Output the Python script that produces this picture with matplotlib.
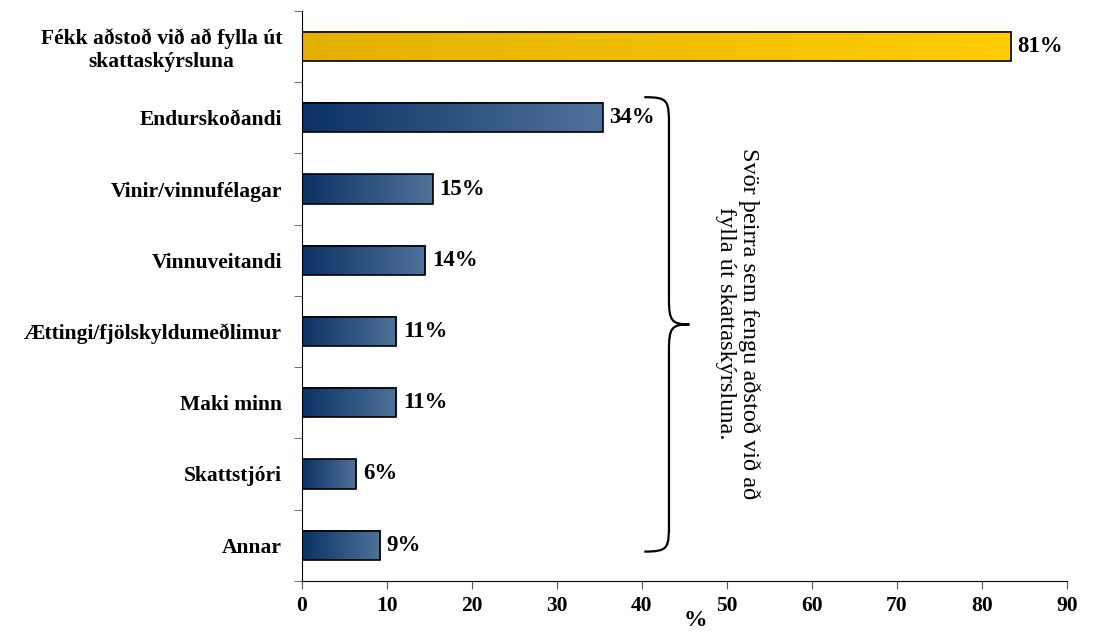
import matplotlib
matplotlib.use('Agg')
import matplotlib.pyplot as plt
import numpy as np
from matplotlib.colors import LinearSegmentedColormap
from matplotlib.path import Path
from matplotlib.patches import PathPatch

categories = ['Fékk aðstoð við að fylla út\nskattaskýrsluna', 'Endurskoðandi',
              'Vinir/vinnufélagar', 'Vinnuveitandi', 'Ættingi/fjölskyldumeðlimur',
              'Maki minn', 'Skattstjóri', 'Annar']
# bar lengths as drawn in the picture
values = [83.4, 35.4, 15.4, 14.5, 11.1, 11.1, 6.4, 9.2]
value_labels = ['81%', '34%', '15%', '14%', '11%', '11%', '6%', '9%']
xticks = [0, 10, 20, 30, 40, 50, 60, 70, 80, 90]
note = 'Svör þeirra sem fengu aðstoð við að\nfylla út skattaskýrsluna.'

plt.rcParams['font.family'] = ['Liberation Serif', 'DejaVu Serif']

blue_cm = LinearSegmentedColormap.from_list('blue', ['#0a3264', '#50729a'])
gold_cm = LinearSegmentedColormap.from_list('gold', ['#e3b000', '#ffcd00'])

fig = plt.figure(figsize=(11.05, 6.32), dpi=100)
ax = fig.add_axes([0.273, 0.081, 0.6925, 0.9016])

n = len(categories)
ypos = np.arange(n)
h = 0.41
grad = np.linspace(0, 1, 256).reshape(1, -1)
for i, (y, v) in enumerate(zip(ypos, values)):
    cm = gold_cm if i == 0 else blue_cm
    ax.imshow(grad, cmap=cm, aspect='auto', extent=[0, v, y + h / 2, y - h / 2],
              zorder=1, interpolation='bilinear')
    ax.text(v + 0.8, y, value_labels[i], va='center', ha='left',
            fontsize=16.5, fontweight='bold')
ax.barh(ypos, values, height=h, facecolor='none', edgecolor='black',
        linewidth=1.2, zorder=2)

ax.set_xlim(0, 90)
ax.set_ylim(n - 0.5, -0.5)
ax.set_xticks(xticks)
ax.set_xticklabels([str(t) for t in xticks], fontsize=15.5, fontweight='bold')
ax.set_yticks(ypos)
ax.set_yticklabels(categories, fontsize=15.5, fontweight='bold')
for lab in ax.get_yticklabels():
    lab.set_multialignment('center')
ax.set_yticks(np.arange(-0.5, n, 1), minor=True)
ax.tick_params(axis='y', which='major', length=0, pad=14)
ax.tick_params(axis='y', which='minor', length=6, color='#555555')
ax.tick_params(axis='x', length=6, color='#555555', pad=5)
ax.set_xlabel('%', fontsize=17, fontweight='bold')
ax.xaxis.set_label_coords(0.514, -0.052)
for s in ['top', 'right']:
    ax.spines[s].set_visible(False)

# curly brace
bx, top, bot, mid = 43.2, 0.71, 7.09, 3.9
left, tip = 40.3, 45.6
c = 0.42
m = 0.36
verts = [(left, top), (bx, top), (bx, top + 0.05), (bx, top + c),
         (bx, mid - m),
         (bx, mid - 0.05), (bx + 0.3, mid), (tip, mid),
         (bx + 0.3, mid), (bx, mid + 0.05), (bx, mid + m),
         (bx, bot - c),
         (bx, bot - 0.05), (bx, bot), (left, bot)]
codes = [Path.MOVETO, Path.CURVE4, Path.CURVE4, Path.CURVE4,
         Path.LINETO,
         Path.CURVE4, Path.CURVE4, Path.CURVE4,
         Path.CURVE4, Path.CURVE4, Path.CURVE4,
         Path.LINETO,
         Path.CURVE4, Path.CURVE4, Path.CURVE4]
ax.add_patch(PathPatch(Path(verts, codes), facecolor='none', edgecolor='black',
                       lw=1.6, clip_on=False))

ax.text(51.3, 3.89, note, rotation=-90, ha='center', va='center',
        fontsize=17.5, linespacing=1.15, multialignment='center')

fig.savefig('out.png', dpi=100)
